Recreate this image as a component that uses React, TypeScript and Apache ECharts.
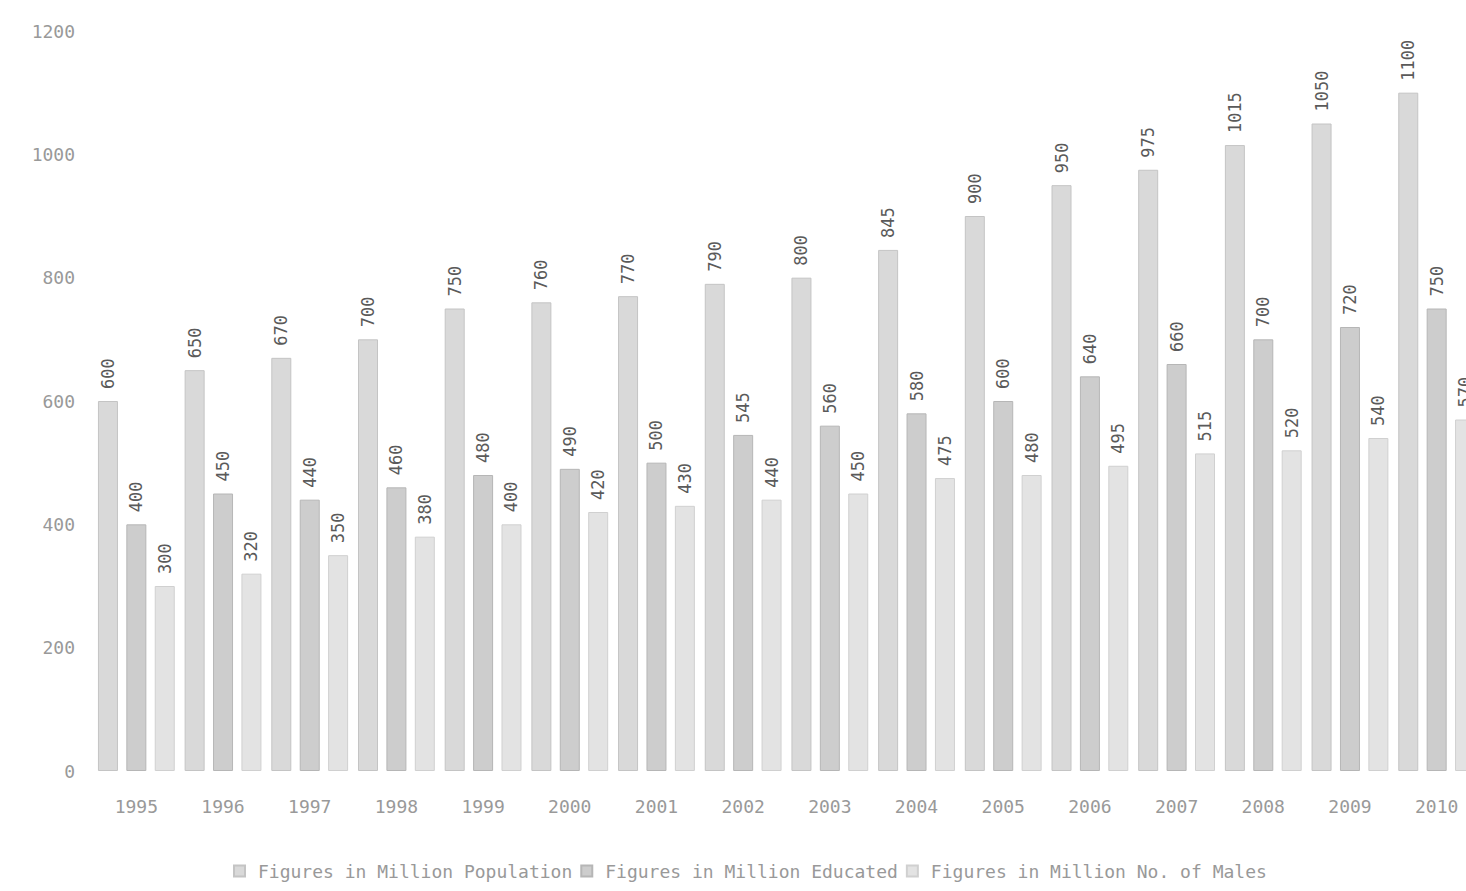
import React, { useEffect, useRef } from "react";
import * as echarts from "echarts";

const years = ["1995", "1996", "1997", "1998", "1999", "2000", "2001", "2002", "2003", "2004", "2005", "2006", "2007", "2008", "2009", "2010"];
const population = [600, 650, 670, 700, 750, 760, 770, 790, 800, 845, 900, 950, 975, 1015, 1050, 1100];
const educated = [400, 450, 440, 460, 480, 490, 500, 545, 560, 580, 600, 640, 660, 700, 720, 750];
const males = [300, 320, 350, 380, 400, 420, 430, 440, 450, 475, 480, 495, 515, 520, 540, 570];
const seriesNames = [
  "Figures in Million Population",
  "Figures in Million Educated",
  "Figures in Million No. of Males",
];

export default function App() {
  const ref = useRef<HTMLDivElement>(null);
  useEffect(() => {
    if (!ref.current) return;
    const chart = echarts.init(ref.current, null, { renderer: "svg" });
    const font = "DejaVu Sans Mono";
    const label = {
      show: true,
      position: "top" as const,
      rotate: 90,
      align: "left" as const,
      verticalAlign: "middle" as const,
      distance: 12,
      color: "#5a5a5a",
      fontSize: 17,
      fontFamily: font,
    };
    const mk = (name: string, data: number[], fill: string, border: string) => ({
      name,
      type: "bar",
      data,
      barWidth: 20,
      barGap: "42%",
      itemStyle: { color: fill, borderColor: border, borderWidth: 1 },
      label,
    });
    chart.setOption({
      animation: false,
      backgroundColor: "#fff",
      textStyle: { fontFamily: font },
      grid: { left: 93, right: 20, top: 31, bottom: 120 },
      legend: {
        bottom: 6,
        left: 228,
        itemWidth: 11,
        itemHeight: 11,
        itemGap: 8,
        icon: "rect",
        textStyle: { color: "#999", fontSize: 18, fontFamily: font, padding: [0, 0, 0, 8] },
        data: seriesNames,
      },
      xAxis: {
        type: "category",
        data: years,
        axisLine: { show: false },
        axisTick: { show: false },
        axisLabel: { color: "#999", fontSize: 18, margin: 26, fontFamily: font },
      },
      yAxis: {
        type: "value",
        min: 0,
        max: 1200,
        interval: 200,
        axisLine: { show: false },
        axisTick: { show: false },
        splitLine: { show: false },
        axisLabel: {
          color: "#999",
          fontSize: 18,
          margin: 18,
          fontFamily: font,
          formatter: (v: number) => String(v),
        },
      },
      series: [
        mk(seriesNames[0], population, "#d9d9d9", "#c4c4c4"),
        mk(seriesNames[1], educated, "#cdcdcd", "#b6b6b6"),
        mk(seriesNames[2], males, "#e3e3e3", "#d0d0d0"),
      ],
    });
    return () => chart.dispose();
  }, []);
  return (
    <div style={{ position: "fixed", left: 0, top: 0, width: 1466, height: 891, overflow: "hidden", background: "#fff" }}>
      <div ref={ref} style={{ width: 1500, height: 891 }} />
    </div>
  );
}
